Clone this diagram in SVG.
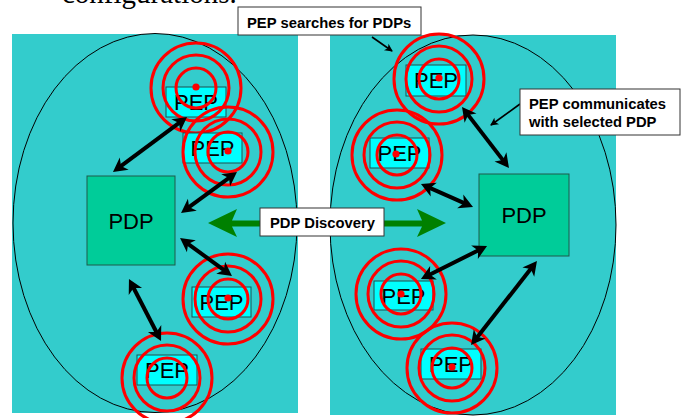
<svg xmlns="http://www.w3.org/2000/svg" width="686" height="418" viewBox="0 0 686 418">
  <style>
    .panel { fill: #33CCCC; }
    .domain { fill: none; stroke: #000; stroke-width: 1; }
    .pdp { fill: #00CC99; stroke: #1f5a4a; stroke-width: 1; }
    .pep { fill: #00FFFF; stroke: #1f4f4f; stroke-width: 1; }
    .lbl { font-family: "Liberation Sans", Arial, sans-serif; fill: #000; text-anchor: middle; }
    .pdp-t { font-size: 22px; }
    .pep-t { font-size: 22px; }
    .ring { fill: none; stroke: #FF0000; stroke-width: 3; }
    .dot { fill: #FF0000; }
    .link { stroke: #000; stroke-width: 4; fill: none; marker-start: url(#head); marker-end: url(#head); }
    .callout { fill: #fff; stroke: #333; stroke-width: 1; }
    .callout-t { font-family: "Liberation Sans", Arial, sans-serif; font-weight: bold; font-size: 14.8px; fill: #000; }
    .pointer { stroke: #000; stroke-width: 1.6; fill: none; marker-end: url(#small); }
  </style>
  <defs>
    <marker id="head" markerUnits="userSpaceOnUse" viewBox="-6 -8 16 16" refX="0" refY="0" markerWidth="16" markerHeight="16" orient="auto-start-reverse">
      <path d="M9,0 L-5,-7.5 L-1,0 L-5,7.5 Z" fill="#000"/>
    </marker>
    <marker id="small" markerUnits="userSpaceOnUse" viewBox="-8 -5 10 10" refX="0" refY="0" markerWidth="10" markerHeight="10" orient="auto">
      <path d="M1,0 L-7,-4 L-5,0 L-7,4 Z" fill="#000"/>
    </marker>
    <g id="rings">
      <circle class="ring" r="20"/>
      <circle class="ring" r="33"/>
      <circle class="ring" r="45"/>
    </g>
  </defs>

  <!-- heading text running off the top edge -->
  <text x="62" y="2.5" font-family="'Liberation Serif', 'Times New Roman', serif" font-size="29" fill="#000">configurations.</text>

  <!-- two administrative domains -->
  <g id="domain-left">
    <rect class="panel" x="12" y="34" width="286" height="379"/>
    <ellipse class="domain" cx="155" cy="223" rx="142" ry="189.5"/>
  </g>
  <g id="domain-right">
    <rect class="panel" x="330" y="35" width="286" height="380"/>
    <ellipse class="domain" cx="473" cy="225" rx="143" ry="190"/>
  </g>

  <!-- discovery between the two PDPs -->
  <g id="discovery-arrow">
    <polygon fill="#008000" points="208,223 237,209 232,220.5 422,220.5 417,209 446,223 417,237 422,226.5 232,226.5 237,237"/>
  </g>

  <!-- PDPs -->
  <g id="pdp-left">
    <rect class="pdp" x="87" y="176" width="88" height="89"/>
    <text class="lbl pdp-t" x="131" y="229">PDP</text>
  </g>
  <g id="pdp-right">
    <rect class="pdp" x="479" y="174" width="90" height="82"/>
    <text class="lbl pdp-t" x="524" y="223">PDP</text>
  </g>

  <!-- PEPs, each with its search rings -->
  <g id="pep-1">
    <rect class="pep" x="166" y="87" width="60" height="30"/>
    <text class="lbl pep-t" x="196" y="110">PEP</text>
    <use href="#rings" x="196" y="88"/>
    <circle class="dot" cx="196" cy="87" r="3.6"/>
  </g>
  <g id="pep-2">
    <rect class="pep" x="183" y="133" width="59" height="30"/>
    <text class="lbl pep-t" x="212.5" y="156">PEP</text>
    <use href="#rings" x="228" y="152"/>
    <circle class="dot" cx="228" cy="151" r="3.6"/>
  </g>
  <g id="pep-3">
    <rect class="pep" x="192" y="287" width="59" height="30"/>
    <text class="lbl pep-t" x="221.5" y="310">PEP</text>
    <use href="#rings" x="228" y="299"/>
    <circle class="dot" cx="228" cy="298" r="3.6"/>
  </g>
  <g id="pep-4">
    <rect class="pep" x="137" y="355" width="60" height="30"/>
    <text class="lbl pep-t" x="167" y="378">PEP</text>
    <use href="#rings" x="167" y="378"/>
  </g>
  <g id="pep-5">
    <rect class="pep" x="406" y="65" width="60" height="31"/>
    <text class="lbl pep-t" x="436" y="88">PEP</text>
    <use href="#rings" x="439" y="79"/>
    <circle class="dot" cx="439" cy="78" r="3.6"/>
  </g>
  <g id="pep-6">
    <rect class="pep" x="370" y="138" width="59" height="30"/>
    <text class="lbl pep-t" x="399.5" y="161">PEP</text>
    <use href="#rings" x="397" y="155"/>
    <circle class="dot" cx="396" cy="154" r="3.6"/>
  </g>
  <g id="pep-7">
    <rect class="pep" x="374" y="281" width="59" height="29"/>
    <text class="lbl pep-t" x="403.5" y="304">PEP</text>
    <use href="#rings" x="401" y="294"/>
    <circle class="dot" cx="401" cy="294" r="3.6"/>
  </g>
  <g id="pep-8">
    <rect class="pep" x="421" y="349" width="60" height="30"/>
    <text class="lbl pep-t" x="451" y="372">PEP</text>
    <use href="#rings" x="452" y="368"/>
    <circle class="dot" cx="452" cy="367" r="3.6"/>
  </g>

  <!-- PEP-PDP links -->
  <g id="connectors">
    <line class="link" x1="120.2" y1="166.6" x2="179.8" y2="122.4"/>
    <line class="link" x1="229.7" y1="177.3" x2="188.3" y2="207.7"/>
    <line class="link" x1="187.3" y1="243.3" x2="224.7" y2="270.7"/>
    <line class="link" x1="133.1" y1="287" x2="156.9" y2="333"/>
    <line class="link" x1="467.5" y1="114.1" x2="503.5" y2="160.9"/>
    <line class="link" x1="429.2" y1="187.6" x2="464.8" y2="203.4"/>
    <line class="link" x1="479" y1="250" x2="429" y2="275"/>
    <line class="link" x1="531.4" y1="268.1" x2="476.6" y2="337.9"/>
    <line class="pointer" x1="372" y1="37" x2="392" y2="51"/>
    <line class="pointer" x1="520" y1="104" x2="491" y2="125"/>
  </g>

  <!-- callouts -->
  <g id="callout-search">
    <rect class="callout" x="238" y="7" width="183" height="28"/>
    <text class="callout-t" x="247" y="28">PEP searches for PDPs</text>
  </g>
  <g id="callout-discovery">
    <rect class="callout" x="260" y="208" width="124" height="28"/>
    <text class="callout-t" x="270" y="228">PDP Discovery</text>
  </g>
  <g id="callout-communicate">
    <rect class="callout" x="520" y="89" width="160" height="46"/>
    <text class="callout-t" x="529" y="109">PEP communicates</text>
    <text class="callout-t" x="529" y="127">with selected PDP</text>
  </g>
</svg>
